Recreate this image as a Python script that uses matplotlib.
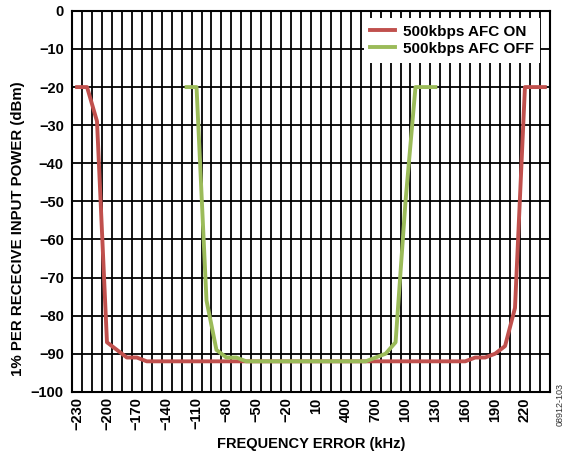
import numpy as np
import matplotlib.pyplot as plt

plt.rcParams['font.family'] = ['Liberation Sans', 'DejaVu Sans']

freq = list(range(-230, 250, 10))
afc_on = [-20, -20, -29, -87, -89, -91, -91, -92] + [-92] * 31 + \
         [-92, -91, -91, -90, -88, -78, -20, -20, -20]
afc_off = [None] * 11 + [-20, -20, -76, -89, -91, -91, -92] + [-92] * 11 + \
          [-92, -91, -90, -87, -50, -20, -20, -20] + [None] * 11
tick_labels = ['\u2212230', '\u2212200', '\u2212170', '\u2212140', '\u2212110', '\u221280',
               '\u221250', '\u221220', '10', '400', '700', '100', '130', '160', '190', '220']

on = np.array(afc_on, dtype=float)
off = np.array([np.nan if v is None else v for v in afc_off], dtype=float)
x = np.arange(len(freq))

fig = plt.figure(figsize=(5.68, 4.54), dpi=100)
ax = fig.add_axes([0.127, 0.137, 0.841, 0.839])

ax.plot(x, on, color='#C0504D', lw=2.8, label='500kbps AFC ON', zorder=3)
ax.plot(x, off, color='#9BBB59', lw=2.8, label='500kbps AFC OFF', zorder=3)

ax.set_xlim(-0.5, len(freq) - 0.5)
ax.set_ylim(-100, 0)
ax.set_xticks(x[::3])
ax.set_xticklabels(tick_labels, rotation=90, fontsize=10.5, fontweight='bold')
ax.set_xticks(np.arange(-0.5, len(freq), 1), minor=True)
ax.set_yticks(np.arange(-100, 1, 10))
ax.set_yticklabels(['\u2212%d' % -v if v < 0 else '0' for v in range(-100, 1, 10)],
                   fontsize=10.5, fontweight='bold')
ax.tick_params(axis='y', which='both', length=0, pad=6)
ax.tick_params(axis='x', which='both', length=0, pad=4)
ax.grid(True, which='minor', axis='x', color='black', lw=1.3)
ax.grid(True, which='major', axis='y', color='black', lw=1.3)
ax.set_axisbelow(True)
for s in ax.spines.values():
    s.set_linewidth(1.5)

ax.set_xlabel('FREQUENCY ERROR (kHz)', fontsize=10.5, fontweight='bold', labelpad=5)
ax.set_ylabel('1% PER RECECIVE INPUT POWER (dBm)', fontsize=10.8, fontweight='bold')
ax.yaxis.set_label_coords(-0.098, 0.428)

leg = ax.legend(loc='upper right', bbox_to_anchor=(0.98, 0.982), borderaxespad=0,
                prop={'size': 11, 'weight': 'bold'}, handlelength=1.6, handletextpad=0.5,
                labelspacing=0.2, borderpad=0.45, fancybox=False, framealpha=1,
                edgecolor='white')
leg.get_frame().set_linewidth(0)

fig.text(0.986, 0.108, '08912-103', rotation=90, fontsize=6.5, color='#333333',
         ha='center', va='center')

fig.savefig('out.png', dpi=100)
